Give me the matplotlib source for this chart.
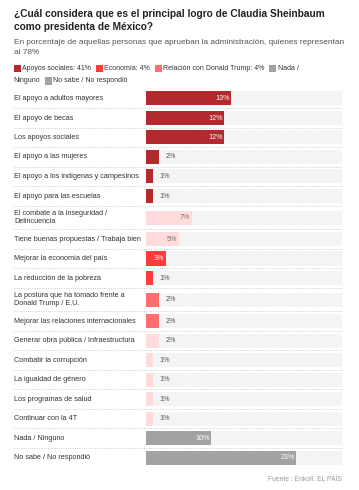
import matplotlib.pyplot as plt
from matplotlib.patches import Rectangle

# --- data ---
labels = [
    "El apoyo a adultos mayores",
    "El apoyo de becas",
    "Los apoyos sociales",
    "El apoyo a las mujeres",
    "El apoyo a los indígenas y campesinos",
    "El apoyo para las escuelas",
    "El combate a la inseguridad /\nDelincuencia",
    "Tiene buenas propuestas / Trabaja bien",
    "Mejorar la economía del país",
    "La reducción de la pobreza",
    "La postura que ha tomado frente a\nDonald Trump / E.U.",
    "Mejorar las relaciones internacionales",
    "Generar obra pública / Infraestructura",
    "Combatir la corrupción",
    "La igualdad de género",
    "Los programas de salud",
    "Continuar con la 4T",
    "Nada / Ninguno",
    "No sabe / No respondió",
]
values = [13, 12, 12, 2, 1, 1, 7, 5, 3, 1, 2, 2, 2, 1, 1, 1, 1, 10, 23]
groups = ["social"] * 6 + ["otro", "otro", "eco", "eco", "trump", "trump",
                           "otro", "otro", "otro", "otro", "otro", "nada", "nosabe"]

legend_labels = ["Apoyos sociales: 41%", "Economía: 4%",
                 "Relación con Donald Trump: 4%", "Nada / Ninguno",
                 "No sabe / No respondió"]
legend_keys = ["social", "eco", "trump", "nada", "nosabe"]

colors = {"social": "#b22a2e", "eco": "#ff3c3c", "trump": "#ff6e6e",
          "otro": "#ffdcdc", "nada": "#a3a3a3", "nosabe": "#a3a3a3"}

title = ["¿Cuál considera que es el principal logro de Claudia Sheinbaum",
         "como presidenta de México?"]
subtitle = ["En porcentaje de aquellas personas que aprueban la administración, quienes representan",
            "al 78%"]
source = "Fuente : Enkoll. EL PAÍS"

plt.rcParams['font.family'] = ['Liberation Sans', 'DejaVu Sans']

W, H = 359, 490
fig = plt.figure(figsize=(W / 100, H / 100), dpi=100)
fig.patch.set_facecolor("white")
fig.canvas.draw()
renderer = fig.canvas.get_renderer()


def fx(px):
    return px / W


def fy(py):
    return 1 - py / H


def width(t):
    return t.get_window_extent(renderer).width


def fit_size(text, target, size, **kw):
    # shrink the font so the line spans the same width as in the reference
    t = fig.text(0, 0, text, fontsize=size, **kw)
    s = size * target / width(t)
    t.remove()
    return s


# title block
ts = fit_size(title[0], 307, 8.6, fontweight="bold")
for k, line in enumerate(title):
    fig.text(fx(14), fy(14 + 12.5 * k), line, fontsize=ts, fontweight="bold",
             color="#222222", va="center", ha="left")
ss = fit_size(subtitle[0], 328, 6.3)
for k, line in enumerate(subtitle):
    fig.text(fx(14), fy(42 + 10.5 * k), line, fontsize=ss, color="#555555",
             va="center", ha="left")

# legend, flowing like inline html text
lfs = fit_size(legend_labels[0], 68, 5.3)

x, y = 13.5, 68.5
right = 318
sq = 7.3
for key, lab in zip(legend_keys, legend_labels):
    if x + sq + 10 > right:
        x, y = 13.5, y + 12.5
    fig.patches.append(Rectangle((fx(x), fy(y + sq / 2)), sq / W, sq / H,
                                 transform=fig.transFigure, facecolor=colors[key],
                                 edgecolor="none"))
    x += sq + 1.3
    words = lab.split(" ")
    line = ""
    for word in words:
        cand = (line + " " + word).strip()
        t = fig.text(fx(x), fy(y), cand, fontsize=lfs)
        w = width(t)
        t.remove()
        if x + w > right and line:
            fig.text(fx(x), fy(y), line, fontsize=lfs, color="#333333",
                     va="center", ha="left")
            x, y = 13.5, y + 12.5
            line = word
        else:
            line = cand
    t = fig.text(fx(x), fy(y), line, fontsize=lfs, color="#333333",
                 va="center", ha="left")
    x += width(t) + 4.5

# --- bars ---
row_h = [23.5 if "\n" in lab else 19.5 for lab in labels]
top = 88.75
bottom = top + sum(row_h)
ax = fig.add_axes([fx(14), fy(bottom), (342 - 14) / W, (bottom - top) / H])
xmin = -132 / 6.54
xmax = 196 / 6.54
ax.set_xlim(xmin, xmax)
ax.set_ylim(sum(row_h), 0)
ax.axis("off")

fs = 5.2
pos = 0
for i, (lab, v, g) in enumerate(zip(labels, values, groups)):
    c = pos + row_h[i] / 2
    ax.barh(c, xmax, height=14.0, left=0, color="#f4f4f4", zorder=1)
    ax.barh(c, v, height=14.0, left=0, color=colors[g], zorder=2)
    ax.text(xmin, c, lab, fontsize=fs, color="#333333",
            va="center", ha="left", linespacing=1.15)
    if v >= 3:
        tc = "#777777" if g == "otro" else "white"
        ax.text(v - 0.2, c, f"{v}%", fontsize=fs, color=tc,
                va="center", ha="right", zorder=3)
    else:
        ax.text(v + 1.0, c, f"{v}%", fontsize=fs, color="#555555",
                va="center", ha="left", zorder=3)
    pos += row_h[i]
    if i < len(labels) - 1:
        ax.plot([xmin, xmax], [pos, pos], color="#cfcfcf", lw=0.7,
                ls=(0, (1, 1.3)), zorder=1)

fig.text(fx(342), fy(479), source, fontsize=4.9, color="#9a9a9a",
         ha="right", va="center")

fig.savefig("out.png", dpi=100, facecolor="white")
